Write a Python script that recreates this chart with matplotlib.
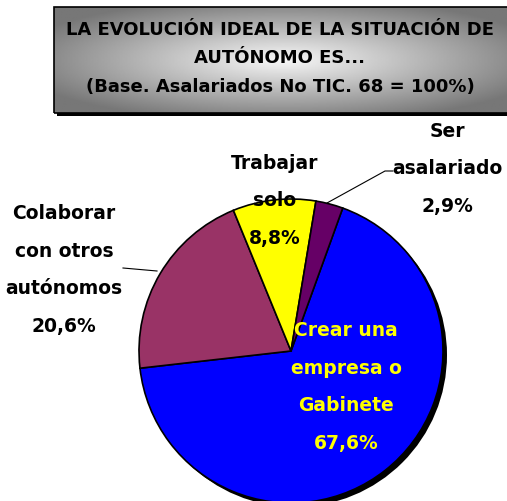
import matplotlib as mpl
mpl.use('Agg')
import matplotlib.pyplot as plt
import numpy as np
from matplotlib.patches import Rectangle, Circle

# data
labels = ['Crear una\nempresa o\nGabinete', 'Colaborar\ncon otros\nautónomos', 'Trabajar\nsolo', 'Ser\nasalariado']
values = [67.6, 20.6, 8.8, 2.9]
pct_text = ['67,6%', '20,6%', '8,8%', '2,9%']
colors = ['#0000ff', '#993366', '#ffff00', '#660066']
title_lines = ['LA EVOLUCIÓN IDEAL DE LA SITUACIÓN DE', 'AUTÓNOMO ES...', '(Base. Asalariados No TIC. 68 = 100%)']

W, H = 507, 502
fig = plt.figure(figsize=(W / 100, H / 100), dpi=100)
ax = fig.add_axes([0, 0, 1, 1])

# pie (pixel-like coords, y measured from bottom)
cx, cy, r = 291, H - 352, 152
ax.add_patch(Circle((cx + 4, cy - 4), r, facecolor='black', edgecolor='none', zorder=1))
wedges, _ = ax.pie(values, colors=colors, startangle=70.1, counterclock=False,
                   center=(cx, cy), radius=r, frame=True,
                   wedgeprops=dict(edgecolor='black', linewidth=1.2, zorder=2))
for w in wedges:
    w.set_zorder(2)

font = 'DejaVu Sans'
fs = 13.5
ls = 2.25
# slice labels
ax.text(346, H - 387, labels[0] + '\n' + pct_text[0], ha='center', va='center', color='#ffff00',
        fontsize=fs, fontweight='bold', family=font, linespacing=ls, zorder=5)
ax.text(64, H - 270, labels[1] + '\n' + pct_text[1], ha='center', va='center', color='black',
        fontsize=fs, fontweight='bold', family=font, linespacing=ls, zorder=5)
ax.text(275, H - 201, labels[2] + '\n' + pct_text[2], ha='center', va='center', color='black',
        fontsize=fs, fontweight='bold', family=font, linespacing=ls, zorder=5)
ax.text(447, H - 169, labels[3] + '\n' + pct_text[3], ha='center', va='center', color='black',
        fontsize=fs, fontweight='bold', family=font, linespacing=ls, zorder=5)

# leader lines
ax.plot([327, 385, 393], [H - 204, H - 172, H - 172], color='black', lw=0.8, zorder=4)
ax.plot([123, 157], [H - 269, H - 272], color='black', lw=0.8, zorder=4)

# title box with gradient
bx0, bx1, by0, by1 = 54, 512, H - 114, H - 8
ax.add_patch(Rectangle((bx0 + 3, by0 - 3), bx1 - bx0, by1 - by0, facecolor='black', edgecolor='none', zorder=6))
gx = np.linspace(-1, 1, 300)
gy = np.linspace(-1, 1, 80)
GX, GY = np.meshgrid(gx, gy)
d = np.clip(np.sqrt(GX ** 2 + GY ** 2), 0, 1.2)
grad = 0.97 - 0.42 * d
ax.imshow(grad, cmap='gray', vmin=0, vmax=1, extent=(bx0, bx1, by0, by1),
          aspect='auto', zorder=7, interpolation='bilinear')
ax.add_patch(Rectangle((bx0, by0), bx1 - bx0, by1 - by0, facecolor='none', edgecolor='black', lw=1.2, zorder=8))
for txt, ypix in zip(title_lines, [30, 58, 87]):
    ax.text(280, H - ypix, txt, ha='center', va='center', fontsize=13, fontweight='bold',
            family=font, color='black', zorder=9)

ax.set_xlim(0, W)
ax.set_ylim(0, H)
ax.set_aspect('auto')
ax.axis('off')

fig.savefig('out.png', dpi=100)
